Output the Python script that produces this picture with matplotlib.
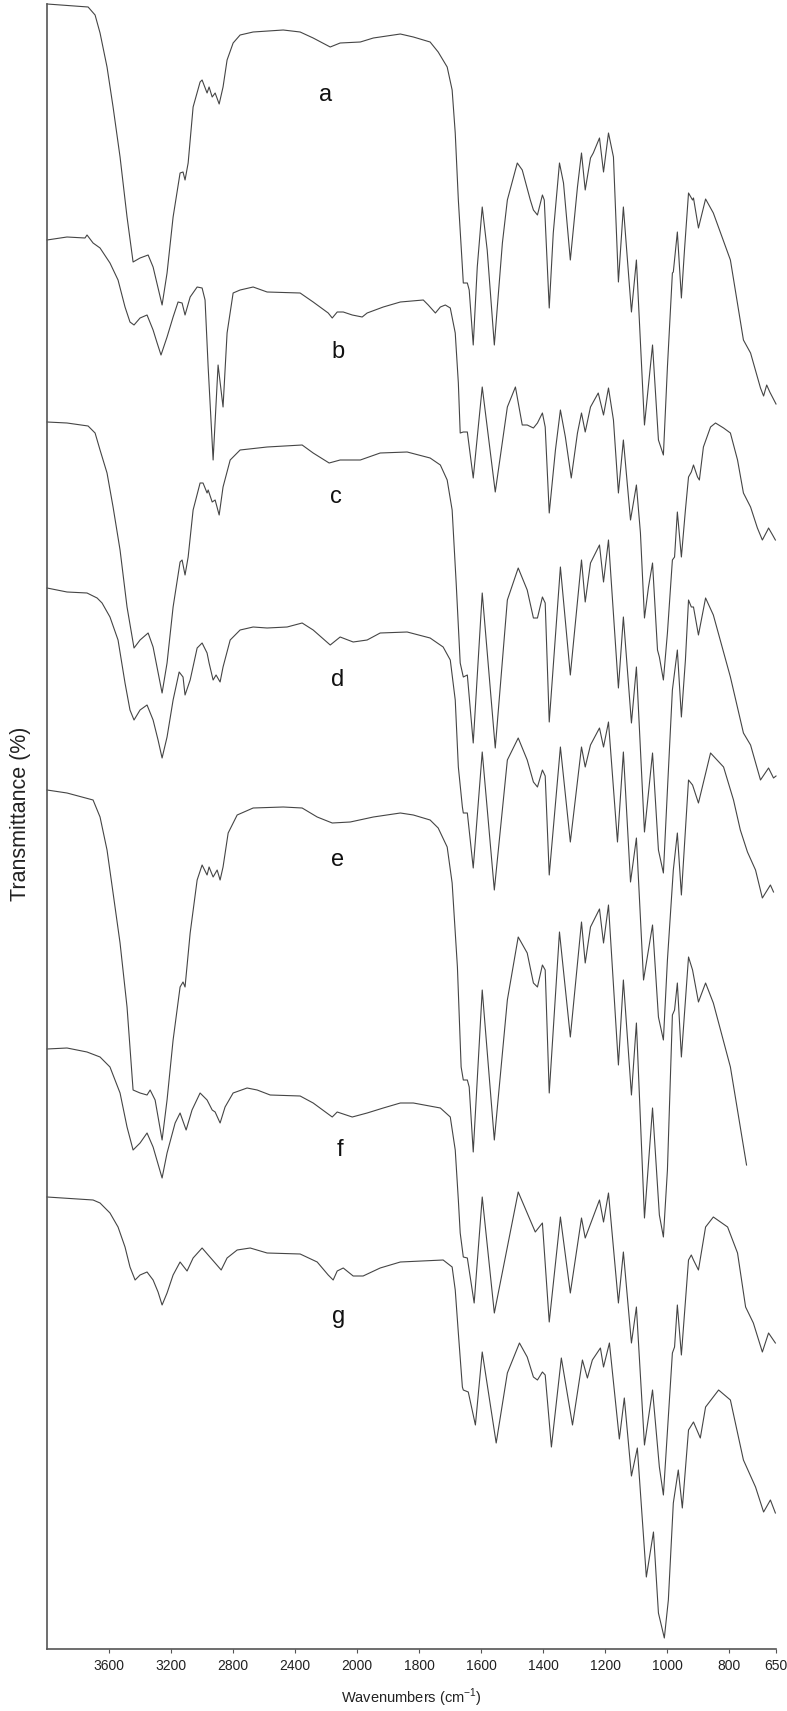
import numpy as np
import matplotlib
matplotlib.use("Agg")
import matplotlib.pyplot as plt

plt.rcParams['font.family'] = ['Liberation Sans', 'DejaVu Sans']
plt.rcParams['mathtext.fontset'] = 'custom'
plt.rcParams['mathtext.rm'] = 'Liberation Sans'

# stacked spectra, transmittance in arbitrary offset units
a_wn = [4000, 3735, 3690, 3658, 3613, 3574, 3529, 3484, 3445, 3400, 3348, 3316, 3258, 3226, 3187, 3142, 3123, 3110, 3090, 3058,
        3013, 3000, 2968, 2955, 2935, 2916, 2890, 2865, 2839, 2800, 2755, 2671, 2477, 2368, 2284, 2174, 2110, 1990, 1948, 1861,
        1819, 1765, 1739, 1710, 1694, 1684, 1674, 1661, 1658, 1645, 1639, 1626, 1613, 1597, 1581, 1558, 1532, 1516, 1484, 1468,
        1442, 1432, 1419, 1403, 1397, 1381, 1368, 1348, 1335, 1313, 1290, 1277, 1265, 1248, 1239, 1219, 1206, 1190, 1174, 1158,
        1142, 1116, 1100, 1074, 1048, 1029, 1013, 1000, 984, 981, 968, 955, 945, 932, 919, 916, 900, 877, 852, 797,
        755, 732, 700, 690, 680, 670, 660, 650]
a_t = [1645, 1642, 1634, 1616, 1582, 1542, 1492, 1432, 1387, 1391, 1394, 1382, 1344, 1376, 1432, 1476, 1477, 1469, 1486, 1542,
       1567, 1569, 1556, 1562, 1552, 1556, 1545, 1562, 1589, 1606, 1614, 1617, 1619, 1617, 1611, 1602, 1606, 1607, 1611, 1615,
       1612, 1607, 1597, 1582, 1559, 1516, 1449, 1382, 1366, 1366, 1359, 1304, 1382, 1442, 1399, 1304, 1406, 1449, 1486, 1479,
       1449, 1439, 1434, 1454, 1449, 1341, 1416, 1486, 1466, 1389, 1462, 1496, 1459, 1491, 1496, 1511, 1477, 1516, 1492, 1367,
       1442, 1337, 1389, 1224, 1304, 1209, 1194, 1282, 1376, 1377, 1417, 1351, 1399, 1456, 1449, 1451, 1421, 1450, 1436, 1389,
       1309, 1296, 1261, 1253, 1264, 1257, 1251, 1245]

b_wn = [4000, 3871, 3755, 3742, 3703, 3658, 3594, 3542, 3497, 3465, 3439, 3400, 3355, 3316, 3290, 3265, 3226, 3187, 3155, 3129,
        3110, 3077, 3032, 3000, 2981, 2961, 2929, 2897, 2865, 2839, 2800, 2755, 2671, 2581, 2368, 2284, 2187, 2161, 2129, 2090,
        2032, 1984, 1968, 1916, 1861, 1787, 1771, 1748, 1732, 1716, 1700, 1684, 1674, 1668, 1658, 1645, 1626, 1597, 1555, 1516,
        1490, 1468, 1452, 1432, 1419, 1403, 1394, 1381, 1361, 1345, 1329, 1310, 1290, 1277, 1265, 1248, 1223, 1206, 1190, 1174,
        1158, 1142, 1119, 1100, 1087, 1074, 1061, 1048, 1032, 1026, 1013, 1000, 984, 977, 968, 955, 942, 932, 923, 916,
        903, 897, 884, 861, 845, 819, 797, 774, 755, 732, 710, 694, 677, 674, 661, 652]
b_t = [1409, 1412, 1411, 1414, 1406, 1401, 1386, 1369, 1342, 1327, 1324, 1331, 1334, 1319, 1306, 1294, 1312, 1332, 1347, 1346,
       1334, 1352, 1362, 1361, 1349, 1282, 1189, 1284, 1242, 1316, 1356, 1359, 1362, 1357, 1356, 1347, 1336, 1331, 1337, 1337,
       1334, 1332, 1336, 1342, 1347, 1349, 1344, 1336, 1342, 1344, 1341, 1316, 1266, 1216, 1217, 1217, 1171, 1262, 1157, 1242,
       1262, 1224, 1224, 1221, 1226, 1236, 1222, 1136, 1199, 1239, 1212, 1171, 1216, 1236, 1217, 1242, 1256, 1234, 1261, 1229,
       1156, 1209, 1129, 1164, 1116, 1031, 1062, 1086, 999, 992, 969, 1016, 1089, 1092, 1137, 1092, 1139, 1172, 1177, 1184,
       1172, 1169, 1202, 1222, 1226, 1221, 1216, 1189, 1156, 1142, 1121, 1109, 1119, 1121, 1114, 1109]

c_wn = [4000, 3871, 3735, 3690, 3658, 3613, 3574, 3529, 3484, 3439, 3400, 3348, 3316, 3258, 3226, 3187, 3142, 3129, 3110, 3090,
        3058, 3013, 2994, 2968, 2961, 2935, 2916, 2890, 2865, 2819, 2755, 2581, 2355, 2284, 2181, 2110, 1990, 1926, 1839, 1765,
        1732, 1710, 1694, 1681, 1668, 1658, 1645, 1626, 1597, 1555, 1516, 1481, 1452, 1432, 1419, 1403, 1394, 1381, 1345, 1313,
        1277, 1265, 1248, 1219, 1206, 1190, 1158, 1142, 1116, 1100, 1074, 1048, 1029, 1013, 1000, 984, 968, 955, 942, 932,
        923, 916, 900, 877, 852, 797, 755, 732, 700, 674, 658, 650]
c_t = [1227, 1226, 1223, 1216, 1199, 1176, 1142, 1099, 1042, 1001, 1009, 1016, 1002, 956, 986, 1042, 1087, 1089, 1074, 1092,
       1139, 1166, 1166, 1156, 1159, 1147, 1149, 1134, 1162, 1189, 1199, 1202, 1204, 1196, 1186, 1189, 1189, 1196, 1197, 1191,
       1184, 1169, 1139, 1066, 986, 972, 974, 906, 1056, 901, 1049, 1081, 1059, 1031, 1031, 1052, 1046, 927, 1082, 974,
       1089, 1047, 1086, 1104, 1067, 1109, 961, 1032, 926, 982, 817, 896, 799, 776, 859, 959, 999, 932, 989, 1049,
       1042, 1042, 1014, 1051, 1034, 972, 916, 904, 869, 881, 871, 873]

d_wn = [4000, 3871, 3742, 3677, 3645, 3594, 3542, 3497, 3465, 3439, 3400, 3355, 3316, 3284, 3258, 3226, 3187, 3148, 3123, 3110,
        3077, 3032, 3000, 2968, 2955, 2929, 2910, 2884, 2865, 2819, 2755, 2671, 2581, 2452, 2355, 2284, 2174, 2110, 2026, 1968,
        1926, 1839, 1765, 1723, 1700, 1684, 1674, 1661, 1658, 1645, 1626, 1597, 1558, 1516, 1481, 1452, 1432, 1419, 1403, 1394,
        1381, 1345, 1313, 1277, 1265, 1248, 1219, 1206, 1190, 1161, 1142, 1119, 1100, 1077, 1048, 1029, 1013, 1000, 981, 968,
        955, 942, 932, 919, 900, 861, 819, 787, 765, 742, 716, 694, 668, 658]
d_t = [1061, 1057, 1056, 1051, 1046, 1032, 1009, 966, 939, 929, 939, 944, 929, 909, 891, 912, 949, 977, 972, 954,
       969, 1001, 1006, 996, 986, 969, 974, 967, 982, 1009, 1019, 1022, 1021, 1022, 1026, 1019, 1004, 1012, 1007, 1009,
       1016, 1017, 1011, 1002, 989, 949, 882, 842, 836, 836, 781, 897, 759, 889, 911, 889, 867, 862, 879, 873,
       774, 902, 807, 902, 882, 904, 921, 902, 927, 807, 897, 767, 811, 669, 724, 632, 609, 689, 779, 816,
       754, 819, 869, 864, 846, 896, 882, 849, 819, 797, 779, 751, 764, 757]

e_wn = [4000, 3871, 3703, 3658, 3613, 3574, 3529, 3484, 3445, 3400, 3355, 3335, 3303, 3258, 3226, 3187, 3142, 3123, 3110, 3077,
        3032, 3000, 2968, 2955, 2929, 2903, 2884, 2865, 2832, 2774, 2671, 2477, 2355, 2258, 2161, 2045, 1948, 1861, 1819, 1765,
        1739, 1710, 1694, 1677, 1665, 1658, 1645, 1639, 1626, 1597, 1558, 1516, 1481, 1452, 1432, 1419, 1403, 1394, 1381, 1348,
        1313, 1277, 1265, 1248, 1219, 1206, 1190, 1158, 1142, 1116, 1100, 1074, 1048, 1026, 1013, 1000, 984, 977, 968, 955,
        932, 919, 900, 877, 852, 797, 745]
e_t = [859, 856, 849, 832, 799, 756, 706, 642, 559, 556, 554, 559, 549, 509, 549, 609, 662, 667, 662, 716,
       769, 784, 774, 782, 772, 779, 769, 782, 816, 834, 841, 842, 841, 832, 826, 827, 832, 836, 834, 829,
       821, 802, 766, 682, 582, 569, 569, 562, 497, 659, 509, 649, 712, 696, 666, 662, 684, 679, 556, 717,
       612, 727, 686, 722, 740, 706, 744, 584, 669, 554, 626, 431, 541, 434, 412, 479, 634, 639, 666, 592,
       692, 679, 647, 666, 646, 582, 484]

f_wn = [4000, 3871, 3742, 3658, 3594, 3529, 3484, 3445, 3400, 3355, 3316, 3258, 3226, 3174, 3142, 3103, 3065, 3013, 2968, 2935,
        2916, 2884, 2852, 2800, 2710, 2645, 2561, 2368, 2284, 2161, 2129, 2032, 1968, 1916, 1861, 1819, 1732, 1700, 1684, 1674,
        1668, 1658, 1645, 1623, 1597, 1558, 1481, 1426, 1403, 1381, 1345, 1313, 1277, 1265, 1219, 1206, 1190, 1158, 1142, 1116,
        1100, 1074, 1048, 1026, 1013, 984, 977, 968, 955, 932, 923, 916, 900, 877, 852, 806, 774, 748, 723, 694,
        674, 652]
f_t = [600, 601, 597, 592, 582, 556, 522, 499, 506, 516, 502, 471, 496, 526, 536, 519, 539, 556, 549, 539,
       537, 526, 542, 556, 561, 559, 554, 553, 546, 532, 537, 532, 536, 541, 546, 546, 541, 532, 499, 449,
       416, 392, 391, 346, 452, 336, 457, 417, 426, 327, 432, 356, 431, 411, 449, 427, 456, 346, 397, 306,
       342, 204, 259, 182, 154, 296, 302, 344, 294, 389, 394, 389, 379, 422, 432, 422, 396, 342, 326, 297,
       316, 306]

g_wn = [4000, 3703, 3658, 3594, 3542, 3497, 3465, 3432, 3400, 3355, 3316, 3284, 3258, 3226, 3187, 3142, 3097, 3058, 3000, 2961,
        2916, 2877, 2839, 2774, 2690, 2581, 2368, 2258, 2187, 2155, 2129, 2090, 2026, 1981, 1926, 1861, 1723, 1694, 1684, 1674,
        1661, 1658, 1642, 1619, 1597, 1552, 1516, 1477, 1452, 1432, 1419, 1403, 1394, 1374, 1342, 1306, 1274, 1258, 1242, 1216,
        1206, 1187, 1155, 1139, 1116, 1097, 1068, 1045, 1029, 1010, 997, 981, 965, 952, 932, 916, 894, 877, 835, 797,
        755, 716, 690, 668, 652]
g_t = [452, 449, 446, 436, 422, 402, 382, 369, 374, 377, 369, 357, 344, 356, 374, 387, 378, 391, 401, 394,
       386, 379, 391, 399, 401, 396, 395, 387, 374, 369, 378, 381, 373, 373, 381, 387, 389, 382, 359, 316,
       262, 259, 257, 224, 297, 206, 276, 306, 292, 272, 269, 277, 274, 202, 291, 224, 289, 271, 289, 301,
       282, 306, 210, 251, 173, 201, 72, 117, 36, 11, 49, 146, 179, 141, 219, 227, 211, 242, 259, 249,
       189, 162, 137, 149, 136]

labels = ['a', 'b', 'c', 'd', 'e', 'f', 'g']
label_wn = [2206, 2123, 2135, 2129, 2129, 2110, 2123]
label_t = [1554, 1297, 1152, 969, 789, 499, 332]

tick_vals = [3600, 3200, 2800, 2400, 2000, 1800, 1600, 1400, 1200, 1000, 800, 650]


# the x axis is stretched x2 below 2000 cm-1
def fwd(x):
    x = np.asarray(x, dtype=float)
    return np.where(x >= 2000, x, 2 * x - 2000)


def inv(u):
    u = np.asarray(u, dtype=float)
    return np.where(u >= 2000, u, (u + 2000) / 2)


fig = plt.figure(figsize=(7.87, 17.11), dpi=100)
ax = fig.add_axes([47 / 787, 62 / 1711, 729 / 787, 1645 / 1711])
ax.set_xscale('function', functions=(fwd, inv))

for wn, t in [(a_wn, a_t), (b_wn, b_t), (c_wn, c_t), (d_wn, d_t), (e_wn, e_t), (f_wn, f_t), (g_wn, g_t)]:
    ax.plot(wn, t, color='#454545', lw=0.8, clip_on=False, solid_joinstyle='round')

for lab, x, y in zip(labels, label_wn, label_t):
    ax.text(x, y, lab, fontsize=17, ha='center', va='center', color='#111111')

ax.set_xlim(4000, 650)
ax.set_ylim(0, 1645)
ax.set_xticks(tick_vals)
ax.set_xticklabels([str(v) for v in tick_vals])
ax.set_yticks([])
ax.tick_params(axis='x', length=3, color='#555555', labelsize=10, pad=4, labelcolor='#222222')
ax.spines['top'].set_visible(False)
ax.spines['right'].set_visible(False)
for s in ['left', 'bottom']:
    ax.spines[s].set_color('#555555')
    ax.spines[s].set_linewidth(1.2)

ax.set_xlabel('Wavenumbers (cm$^{-1}$)', fontsize=10.5, labelpad=10, color='#222222')
ax.set_ylabel('Transmittance (%)', fontsize=15.5, color='#222222')
ax.yaxis.set_label_coords(-0.022, 0.508)

fig.savefig('out.png', dpi=100)
